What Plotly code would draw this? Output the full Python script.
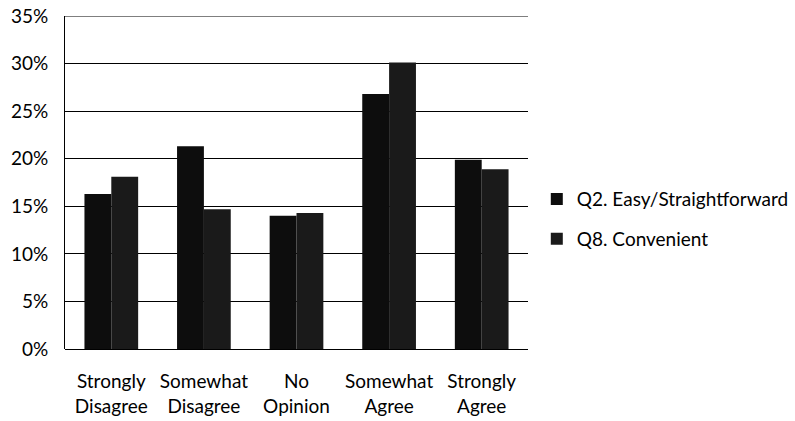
import plotly.graph_objects as go

categories = ["Strongly<br>Disagree", "Somewhat<br>Disagree", "No<br>Opinion", "Somewhat<br>Agree", "Strongly<br>Agree"]
q2_values = [0.163, 0.213, 0.140, 0.268, 0.199]
q8_values = [0.181, 0.147, 0.143, 0.301, 0.189]
series_names = ["Q2. Easy/Straightforward", "Q8. Convenient"]
y_ticks = [0, 0.05, 0.10, 0.15, 0.20, 0.25, 0.30, 0.35]
y_tick_labels = ["0%", "5%", "10%", "15%", "20%", "25%", "30%", "35%"]

font_family = "Lato, Carlito, Open Sans, sans-serif"

fig = go.Figure()
fig.add_trace(go.Bar(x=categories, y=q2_values, name=series_names[0], legendgroup="a",
                     marker=dict(color="#0d0d0d", line=dict(width=0))))
fig.add_trace(go.Bar(x=categories, y=q8_values, name=series_names[1], legendgroup="b",
                     marker=dict(color="#1a1a1a", line=dict(width=0))))

fig.update_layout(
    width=795, height=421,
    margin=dict(l=65, r=267, t=16, b=72, autoexpand=False),
    paper_bgcolor="white", plot_bgcolor="white",
    barmode="group", bargap=0.42, bargroupgap=0,
    font=dict(family=font_family, size=19, color="black"),
    legend=dict(x=1.019, y=0.39, xanchor="left", yanchor="middle",
                font=dict(size=19), tracegroupgap=12, itemwidth=30,
                bgcolor="rgba(0,0,0,0)"),
    xaxis=dict(showline=False, ticks="", tickfont=dict(size=19), automargin=False,
               ticklabelstandoff=19),
    yaxis=dict(range=[0, 0.35], tickvals=y_ticks, ticktext=y_tick_labels,
               showgrid=True, gridcolor="black", gridwidth=1,
               showline=True, linecolor="black", linewidth=1,
               zeroline=True, zerolinecolor="black", zerolinewidth=1,
               ticks="", tickfont=dict(size=19), ticklabelstandoff=12, automargin=False),
)
fig.add_shape(type="line", xref="paper", yref="y", x0=0, x1=1, y0=0.35, y1=0.35,
              line=dict(color="black", width=1))

fig.write_html("out.html", config={"displayModeBar": False},
               post_script="document.body.style.margin='0';")
